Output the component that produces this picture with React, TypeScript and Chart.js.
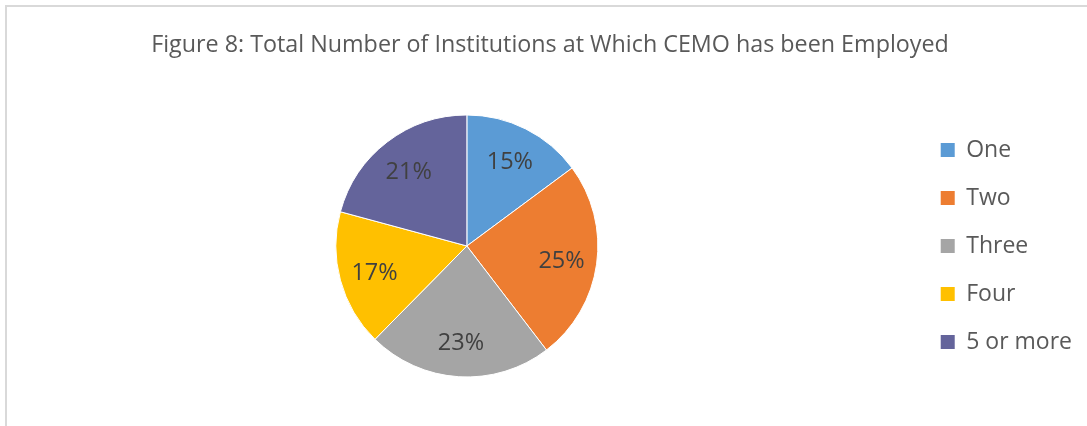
import React, { useEffect, useRef } from "react";
import { Chart, registerables } from "chart.js";

Chart.register(...registerables);

const categories = ["One", "Two", "Three", "Four", "5 or more"];
const percentValues = [15, 25, 23, 17, 21];
const sliceColors = ["#5B9BD5", "#ED7D31", "#A5A5A5", "#FFC000", "#64649B"];
const titleText = "Figure 8: Total Number of Institutions at Which CEMO has been Employed";

const FONT = "'Open Sans', 'Liberation Sans', sans-serif";

const labelPlugin = {
  id: "sliceLabels",
  afterDatasetsDraw(chart: any) {
    const ctx = chart.ctx;
    const meta = chart.getDatasetMeta(0);
    ctx.save();
    ctx.font = `23.5px ${FONT}`;
    ctx.fillStyle = "#404040";
    ctx.textAlign = "center";
    ctx.textBaseline = "middle";
    meta.data.forEach((arc: any, i: number) => {
      const p = arc.getProps(["x", "y", "startAngle", "endAngle", "outerRadius"], true);
      const mid = (p.startAngle + p.endAngle) / 2;
      const r = p.outerRadius * 0.73;
      ctx.fillText(`${percentValues[i]}%`, p.x + Math.cos(mid) * r, p.y + Math.sin(mid) * r + 2);
    });
    ctx.restore();
  },
};

export default function App() {
  const ref = useRef<HTMLCanvasElement | null>(null);

  useEffect(() => {
    if (!ref.current) return;
    const defaultGen = (Chart as any).overrides.pie.plugins.legend.labels.generateLabels;
    const chart = new Chart(ref.current, {
      type: "pie",
      data: {
        labels: categories,
        datasets: [
          {
            data: percentValues,
            backgroundColor: sliceColors,
            borderColor: "#ffffff",
            borderWidth: 1,
          },
        ],
      },
      options: {
        responsive: false,
        animation: false,
        radius: 131,
        layout: { padding: { left: 18, right: 5, top: 0, bottom: 0 } },
        plugins: {
          tooltip: { enabled: false },
          title: {
            display: true,
            text: titleText,
            color: "#595959",
            font: { family: FONT, size: 23.3, weight: "normal", lineHeight: 1.2 },
            padding: { top: 31.5, bottom: 6.5 },
          },
          legend: {
            display: true,
            position: "right",
            fullSize: false,
            labels: {
              boxWidth: 14,
              boxHeight: 14,
              padding: 25,
              color: "#595959",
              font: { family: FONT, size: 23 },
              generateLabels: (c: any) =>
                defaultGen(c).map((l: any) => ({ ...l, lineWidth: 0, strokeStyle: "transparent" })),
            },
          },
        },
      } as any,
      plugins: [labelPlugin],
    });
    return () => chart.destroy();
  }, []);

  return (
    <div style={{ position: "absolute", left: 0, top: 0, width: 1087, height: 426, background: "#fff" }}>
      <div
        style={{
          position: "absolute",
          left: 5,
          top: 5,
          width: 1082,
          height: 421,
          borderTop: "2px solid #d9d9d9",
          borderLeft: "2px solid #d9d9d9",
          boxSizing: "border-box",
        }}
      />
      <canvas ref={ref} width={1087} height={426} style={{ position: "absolute", left: 0, top: 0 }} />
    </div>
  );
}
